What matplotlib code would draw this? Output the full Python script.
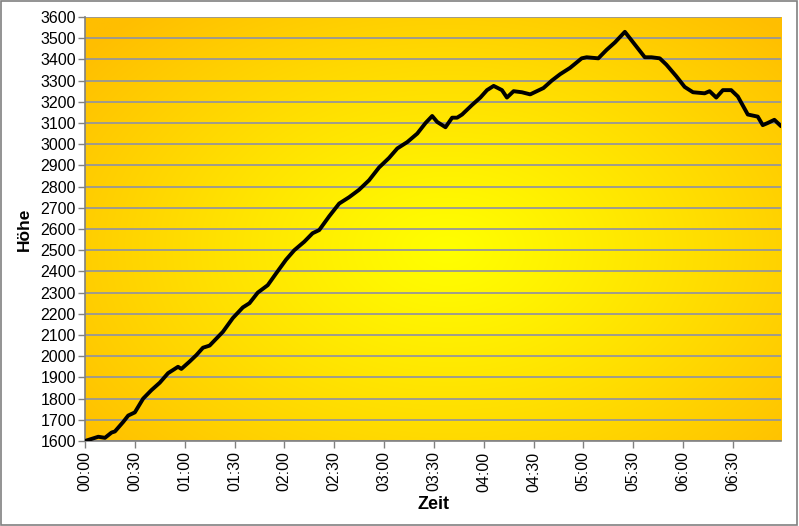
import matplotlib
matplotlib.use('Agg')
import matplotlib.pyplot as plt
from matplotlib.colors import to_rgb
from matplotlib.patches import Rectangle
import numpy as np

plt.rcParams['font.family'] = ['Liberation Sans', 'DejaVu Sans']

# minutes since start / altitude
minutes = [0, 4, 8, 12, 16, 18, 23, 26, 30, 35, 40, 45, 50, 56, 58, 63, 67, 71, 75,
           83, 89, 95, 99, 104, 110, 115, 121, 126, 132, 137, 141, 147, 153, 159,
           165, 171, 177, 183, 188, 194, 200, 205, 209, 212, 217, 221, 224, 227,
           233, 238, 242, 246, 251, 254, 258, 263, 268, 272, 276, 281, 286, 292,
           299, 302, 309, 314, 319, 325, 330, 337, 341, 346, 350, 356, 361, 366,
           373, 376, 380, 384, 389, 393, 399, 405, 408, 411, 415, 419]
hoehe = [1600, 1610, 1620, 1615, 1640, 1645, 1690, 1720, 1735, 1800, 1840, 1875,
         1920, 1950, 1940, 1975, 2005, 2040, 2050, 2115, 2180, 2230, 2250, 2300,
         2335, 2390, 2455, 2500, 2540, 2580, 2595, 2660, 2720, 2750, 2785, 2830,
         2890, 2935, 2980, 3010, 3050, 3100, 3133, 3105, 3080, 3125, 3125, 3140,
         3185, 3220, 3255, 3275, 3255, 3220, 3250, 3245, 3235, 3250, 3265, 3300,
         3330, 3360, 3405, 3410, 3405, 3445, 3480, 3530, 3480, 3410, 3410, 3405,
         3375, 3320, 3270, 3245, 3240, 3250, 3220, 3255, 3255, 3225, 3140, 3130,
         3090, 3100, 3115, 3085]

tick_minutes = list(range(0, 420, 30))
tick_labels = ['%02d:%02d' % (m // 60, m % 60) for m in tick_minutes]

fig = plt.figure(figsize=(7.99, 5.26), dpi=100)
ax = fig.add_axes([0.1064, 0.1616, 0.8711, 0.8061])

# gradient background: yellow in the middle, orange towards the edges
c_in = np.array(to_rgb('#FFFF00'))
c_out = np.array(to_rgb('#FFBE00'))
gx, gy = np.meshgrid(np.linspace(0, 1, 400), np.linspace(0, 1, 300))
d = np.sqrt(((gx - 0.52) / 0.5) ** 2 + ((gy - 0.45) / 0.55) ** 2) / 1.35
d = np.clip(d, 0, 1) ** 1.1
img = c_in[None, None, :] + (c_out - c_in)[None, None, :] * d[..., None]
ax.imshow(img, extent=(0, 1, 0, 1), transform=ax.transAxes, aspect='auto',
          origin='lower', zorder=0, interpolation='bilinear')

ax.plot(minutes, hoehe, color='black', lw=2.8, zorder=3,
        solid_joinstyle='round', solid_capstyle='round')

ax.set_xlim(0, 419)
ax.set_ylim(1600, 3600)
ax.set_yticks(np.arange(1600, 3601, 100))
ax.set_xticks(tick_minutes)
ax.set_xticklabels(tick_labels, rotation=90)
ax.tick_params(axis='both', labelsize=11.5, color='#808080', length=5, width=1)
ax.tick_params(axis='y', pad=1.5)
ax.tick_params(axis='x', pad=2.5)

ax.yaxis.grid(True, color='#979797', lw=1.3, zorder=1)
ax.set_axisbelow(True)
for s in ['top', 'right']:
    ax.spines[s].set_visible(False)
for s in ['left', 'bottom']:
    ax.spines[s].set_color('#808080')
    ax.spines[s].set_linewidth(1.2)

ax.set_ylabel('Höhe', fontsize=12.5, fontweight='bold', labelpad=6)
ax.set_xlabel('Zeit', fontsize=13, fontweight='bold', labelpad=3)

fig.patches.append(Rectangle((0.001, 0.001), 0.997, 0.997, transform=fig.transFigure,
                             fill=False, edgecolor='#808080', lw=1.2))

fig.savefig('out.png', dpi=100)
